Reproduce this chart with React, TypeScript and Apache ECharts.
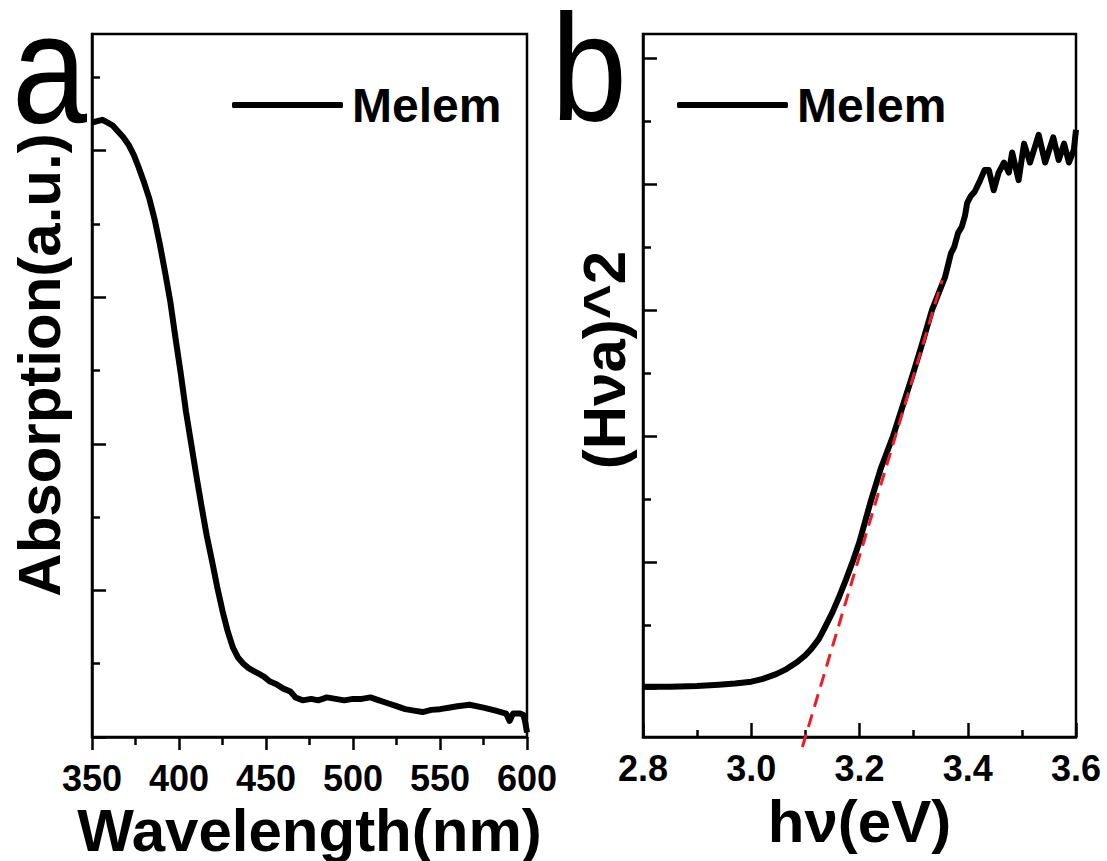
import React, { useEffect, useRef } from 'react';
import * as echarts from 'echarts';

const FONT = '"Liberation Sans", Arial, Helvetica, sans-serif';

// Panel a: UV-vis absorption spectrum
const wavelength = [350, 353, 356, 359, 362, 365, 368, 371, 374, 377, 380, 383, 386, 389, 392, 395, 398, 401, 404, 407, 410, 413, 416, 419, 422, 425, 428, 431, 434, 437, 440, 443, 446, 449, 452, 456, 460, 464, 467, 471, 476, 480, 485, 490, 495, 500, 505, 510, 515, 520, 525, 530, 535, 540, 545, 550, 555, 560, 567, 575, 582, 588, 590, 592, 596, 598, 599, 600];
const absorption = [4.19, 4.2, 4.21, 4.19, 4.17, 4.13, 4.09, 4.04, 3.97, 3.88, 3.78, 3.67, 3.53, 3.36, 3.17, 2.97, 2.72, 2.48, 2.22, 2.0, 1.78, 1.57, 1.37, 1.2, 1.02, 0.86, 0.72, 0.61, 0.54, 0.5, 0.47, 0.45, 0.43, 0.41, 0.38, 0.36, 0.33, 0.31, 0.27, 0.25, 0.26, 0.25, 0.27, 0.26, 0.25, 0.26, 0.26, 0.27, 0.25, 0.23, 0.21, 0.19, 0.18, 0.17, 0.185, 0.19, 0.2, 0.21, 0.22, 0.2, 0.18, 0.16, 0.11, 0.16, 0.16, 0.15, 0.1, 0.03];

// Panel b: Tauc plot
const photonEnergy = [2.8, 2.85, 2.9, 2.94, 2.97, 3.0, 3.02, 3.046, 3.065, 3.085, 3.1, 3.111, 3.125, 3.136, 3.15, 3.162, 3.175, 3.188, 3.2, 3.22, 3.24, 3.262, 3.28, 3.3, 3.315, 3.334, 3.345, 3.358, 3.365, 3.369, 3.375, 3.382, 3.389, 3.395, 3.399, 3.405, 3.413, 3.422, 3.431, 3.439, 3.448, 3.457, 3.467, 3.476, 3.482, 3.494, 3.504, 3.515, 3.531, 3.543, 3.558, 3.568, 3.578, 3.587, 3.596, 3.6];
const hvaSquared = [0.01, 0.01, 0.015, 0.025, 0.035, 0.05, 0.07, 0.11, 0.15, 0.206, 0.26, 0.31, 0.39, 0.48, 0.6, 0.72, 0.86, 1.01, 1.16, 1.47, 1.75, 2.0, 2.24, 2.51, 2.72, 3.0, 3.12, 3.26, 3.38, 3.45, 3.5, 3.61, 3.66, 3.75, 3.85, 3.9, 3.94, 4.02, 4.11, 4.11, 3.95, 4.09, 4.17, 4.09, 4.25, 4.03, 4.32, 4.17, 4.39, 4.17, 4.37, 4.19, 4.32, 4.17, 4.27, 4.43];

// Linear fit (tangent) used to read the band gap
const tangentEnergy = [3.0945, 3.3527];
const tangentValue = [-0.468, 3.237];

// Axis ranges and ticks
const aXRange = [350, 600];
const aXStep = 50;
const aYRange = [0, 4.795];
const aYMajor = [0, 1, 2, 3, 4];
const aYMinor = [0.5, 1.5, 2.5, 3.5, 4.5];
const bXRange = [2.8, 3.6];
const bXStep = 0.2;
const bYRange = [-0.389, 5.19];
const bYMajor = [0, 1, 2, 3, 4, 5];
const bYMinor = [0.5, 1.5, 2.5, 3.5, 4.5];

const seriesName = 'Melem';

export default function App() {
  const ref = useRef<HTMLDivElement>(null);

  useEffect(() => {
    if (!ref.current) return;
    const chart = echarts.init(ref.current, null, { renderer: 'svg' });

    const lw = 2.5;
    const black = '#000';
    const axisLine = { show: true, onZero: false, lineStyle: { color: black, width: lw } };
    const tickLabel = { fontFamily: FONT, fontSize: 36, fontWeight: 'bold', color: black };
    const nameStyle = { fontFamily: FONT, fontSize: 60, fontWeight: 'bold', color: black };

    const yAxisPair = (grid: number, range: number[], major: number[], minor: number[], name: string, gap: number, shift: number) => [
      {
        type: 'value', gridIndex: grid, position: 'left', min: range[0], max: range[1],
        axisLine, splitLine: { show: false }, axisLabel: { show: false },
        axisTick: { show: true, inside: true, length: 14, lineStyle: { color: black, width: lw }, customValues: major },
        name, nameLocation: 'middle', nameGap: gap, nameTextStyle: { ...nameStyle, padding: [0, 0, 0, shift] },
      },
      {
        type: 'value', gridIndex: grid, position: 'left', min: range[0], max: range[1],
        axisLine: { show: false }, splitLine: { show: false }, axisLabel: { show: false },
        axisTick: { show: true, inside: true, length: 8, lineStyle: { color: black, width: lw }, customValues: minor },
      },
    ];

    const legendStyle = {
      top: 81, padding: 0, data: [seriesName], icon: 'roundRect', itemWidth: 111, itemHeight: 6,
      textStyle: { fontFamily: FONT, fontSize: 48, fontWeight: 'bold', color: black, padding: [0, 0, 0, 4] },
      selectedMode: false,
    };

    const option = {
      animation: false,
      backgroundColor: '#fff',
      grid: [
        { left: 92, top: 34, width: 435, height: 703, show: true, borderColor: black, borderWidth: lw, backgroundColor: 'transparent', outerBoundsMode: 'none' },
        { left: 643, top: 34, width: 433, height: 703, show: true, borderColor: black, borderWidth: lw, backgroundColor: 'transparent', outerBoundsMode: 'none' },
      ],
      legend: [
        { ...legendStyle, left: 232 },
        { ...legendStyle, left: 677 },
      ],
      xAxis: [
        {
          type: 'value', gridIndex: 0, min: aXRange[0], max: aXRange[1], interval: aXStep,
          axisLine, splitLine: { show: false },
          axisTick: { show: true, inside: false, length: 13, lineStyle: { color: black, width: lw } },
          minorTick: { show: true, splitNumber: 2, length: 8, lineStyle: { color: black, width: lw } },
          axisLabel: { ...tickLabel, margin: 23 },
          name: 'Wavelength(nm)', nameLocation: 'middle', nameGap: 49, nameTextStyle: nameStyle,
        },
        {
          type: 'value', gridIndex: 1, min: bXRange[0], max: bXRange[1], interval: bXStep,
          axisLine, splitLine: { show: false },
          axisTick: { show: true, inside: true, length: 14, lineStyle: { color: black, width: lw } },
          minorTick: { show: true, splitNumber: 2, length: 7, lineStyle: { color: black, width: lw } },
          axisLabel: { ...tickLabel, margin: 13, formatter: (v: number) => v.toFixed(1) },
          name: 'hν(eV)', nameLocation: 'middle', nameGap: 54, nameTextStyle: nameStyle,
        },
      ],
      yAxis: [
        ...yAxisPair(0, aYRange, aYMajor, aYMinor, 'Absorption(a.u.)', 23, 41),
        ...yAxisPair(1, bYRange, bYMajor, bYMinor, '(Hνa)^2', 9, 51),
      ],
      series: [
        {
          name: seriesName, type: 'line', xAxisIndex: 0, yAxisIndex: 0,
          data: wavelength.map((w, i) => [w, absorption[i]]),
          showSymbol: false, symbol: 'none', lineStyle: { color: black, width: 6, join: 'round' }, itemStyle: { color: black },
        },
        {
          name: seriesName, type: 'line', xAxisIndex: 1, yAxisIndex: 2,
          data: photonEnergy.map((e, i) => [e, hvaSquared[i]]),
          showSymbol: false, symbol: 'none', lineStyle: { color: black, width: 6, join: 'round' }, itemStyle: { color: black },
        },
        {
          name: 'Linear fit', type: 'line', xAxisIndex: 1, yAxisIndex: 2, clip: false,
          data: tangentEnergy.map((e, i) => [e, tangentValue[i]]),
          showSymbol: false, symbol: 'none', lineStyle: { color: '#ee1c24', width: 3, type: [13, 8] }, z: 5,
        },
      ],
      graphic: [
        { type: 'text', x: 12, y: 68, scaleX: 0.87, style: { text: 'a', font: `155px ${FONT}`, fill: black, verticalAlign: 'middle', lineHeight: 120 } },
        { type: 'text', x: 551, y: 67, scaleX: 0.9, style: { text: 'b', font: `152px ${FONT}`, fill: black, verticalAlign: 'middle', lineHeight: 120 } },
      ],
    };

    chart.setOption(option as any);
    return () => chart.dispose();
  }, []);

  return <div ref={ref} style={{ position: 'fixed', left: 0, top: 0, width: 1107, height: 861, background: '#fff' }} />;
}
